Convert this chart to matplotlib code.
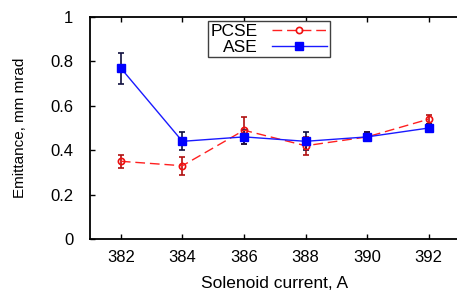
import matplotlib
matplotlib.use('Agg')
import matplotlib.pyplot as plt

plt.rcParams['font.family'] = ['Liberation Sans', 'DejaVu Sans']

# data
current = [382, 384, 386, 388, 390, 392]
pcse = [0.35, 0.33, 0.49, 0.42, 0.46, 0.54]
pcse_err = [0.03, 0.04, 0.06, 0.04, 0.02, 0.02]
ase = [0.77, 0.44, 0.46, 0.44, 0.46, 0.50]
ase_err = [0.07, 0.04, 0.03, 0.04, 0.02, 0.02]

fig = plt.figure(figsize=(4.57, 2.9), dpi=100)
# axes run slightly past the right edge, as in the reference
ax = fig.add_axes([90 / 457, 1 - 239 / 290, 369.6 / 457, 222 / 290])

ax.errorbar(current, pcse, yerr=pcse_err, fmt='none', ecolor='#b01010',
            elinewidth=1.2, capsize=2.2, capthick=1.2, zorder=2)
ax.errorbar(current, ase, yerr=ase_err, fmt='none', ecolor='#101040',
            elinewidth=1.2, capsize=2.2, capthick=1.2, zorder=2)
ax.plot(current, pcse, color='#ff2020', ls=(0, (7, 3.5)), lw=1.0, marker='o',
        ms=4.5, mfc='none', mec='#ee1010', mew=1.2, label='PCSE', zorder=3)
ax.plot(current, ase, color='#1a1aff', ls='-', lw=1.0, marker='s',
        ms=5.5, mfc='#0000ff', mec='#0000ff', label='ASE', zorder=3)

ax.set_xlim(381, 393)
ax.set_ylim(0, 1)
ax.set_xticks(current)
ax.set_yticks([0, 0.2, 0.4, 0.6, 0.8, 1])
ax.set_yticklabels(['0', '0.2', '0.4', '0.6', '0.8', '1'])
ax.tick_params(direction='in', length=3.5, width=1, labelsize=12,
               top=True, right=False)
ax.tick_params(axis='y', pad=12)
ax.tick_params(axis='x', pad=8)
for s in ax.spines.values():
    s.set_linewidth(1.3)
ax.spines['right'].set_visible(False)

ax.set_xlabel('Solenoid current, A', fontsize=12.5, labelpad=8)
ax.set_ylabel('Emittance, mm mrad', fontsize=11, labelpad=17)

leg = ax.legend(loc='upper left', bbox_to_anchor=(208 / 457, 1 - 21 / 290),
                bbox_transform=fig.transFigure, markerfirst=False,
                fontsize=12.5, fancybox=False, framealpha=1,
                edgecolor='#404040', handlelength=3.2, handletextpad=0.8,
                borderpad=0.15, labelspacing=0.05, borderaxespad=0)
leg.get_frame().set_linewidth(1.0)

fig.savefig('out.png', dpi=100)
